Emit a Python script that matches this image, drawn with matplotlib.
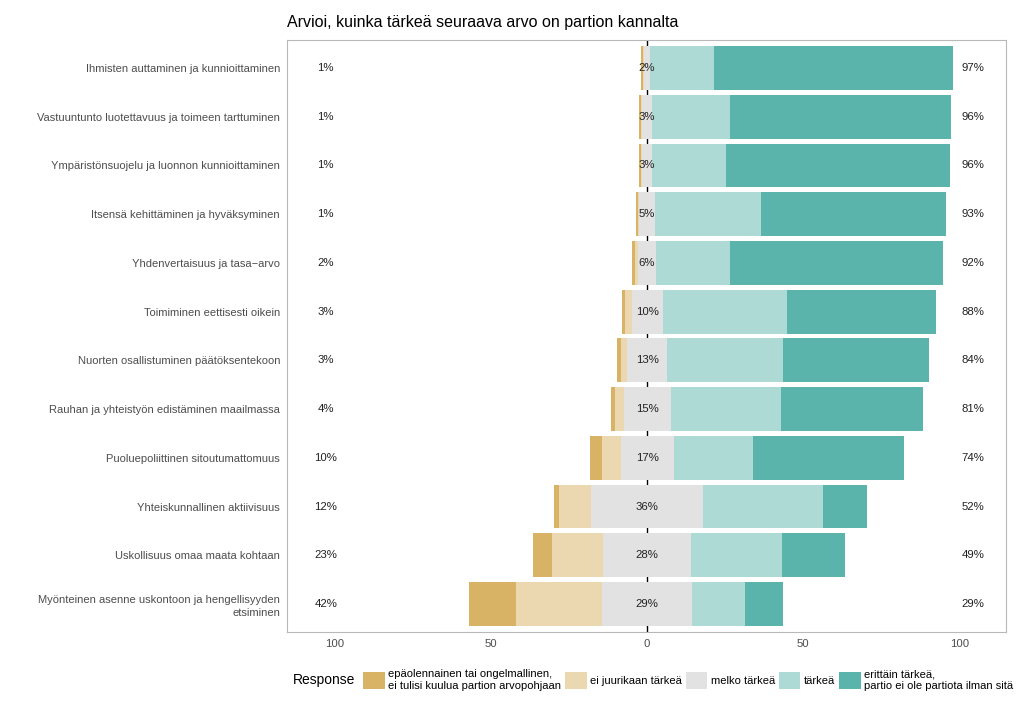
import numpy as np
import matplotlib; matplotlib.use("Agg")
import matplotlib.pyplot as plt
from matplotlib.patches import Patch

# --- data (percent) ---
items = ["Ihmisten auttaminen ja kunnioittaminen",
         "Vastuuntunto luotettavuus ja toimeen tarttuminen",
         "Ympäristönsuojelu ja luonnon kunnioittaminen",
         "Itsensä kehittäminen ja hyväksyminen",
         "Yhdenvertaisuus ja tasa\u2212arvo",
         "Toimiminen eettisesti oikein",
         "Nuorten osallistuminen päätöksentekoon",
         "Rauhan ja yhteistyön edistäminen maailmassa",
         "Puoluepoliittinen sitoutumattomuus",
         "Yhteiskunnallinen aktiivisuus",
         "Uskollisuus omaa maata kohtaan",
         "Myönteinen asenne uskontoon ja hengellisyyden\netsiminen"]
epaolennainen = [0.7, 0.6, 0.6, 0.5, 1.0, 1.0, 1.0, 1.2, 3.8, 1.8, 6.0, 15.0]
ei_juurikaan = [0.3, 0.4, 0.4, 0.5, 1.0, 2.0, 2.0, 2.8, 6.0, 10.2, 16.6, 27.5]
melko = [2, 3, 3, 5, 6, 10, 13, 15, 17, 36, 28, 29]
tarkea = [20.5, 25.0, 23.8, 34.0, 23.6, 39.8, 37.1, 35.4, 25.3, 38.4, 29.2, 16.9]
erittain = [76.5, 70.8, 71.8, 59.3, 68.3, 47.7, 46.8, 45.6, 48.4, 13.9, 20.1, 12.0]
low_lab = ["1%", "1%", "1%", "1%", "2%", "3%", "3%", "4%", "10%", "12%", "23%", "42%"]
mid_lab = ["2%", "3%", "3%", "5%", "6%", "10%", "13%", "15%", "17%", "36%", "28%", "29%"]
high_lab = ["97%", "96%", "96%", "93%", "92%", "88%", "84%", "81%", "74%", "52%", "49%", "29%"]
levels = ["epäolennainen tai ongelmallinen,\nei tulisi kuulua partion arvopohjaan",
          "ei juurikaan tärkeä", "melko tärkeä", "tärkeä",
          "erittäin tärkeä,\npartio ei ole partiota ilman sitä"]
cols = ["#D8B365", "#EBD8B0", "#E2E2E2", "#AEDAD5", "#5AB4AC"]

plt.rcParams.update({"font.family": ["Liberation Sans", "DejaVu Sans"]})
fig = plt.figure(figsize=(10.24, 7.08), dpi=100)
ax = fig.add_axes([287/1024, 1-632/708, (1006-287)/1024, (632-40)/708])

n = len(items)
y = n - np.arange(n)
d1, d2, m, t1, t2 = (np.array(a, float) for a in (epaolennainen, ei_juurikaan, melko, tarkea, erittain))
h = 0.9
ax.barh(y, m, left=-m/2, height=h, color=cols[2], zorder=3)
ax.barh(y, d2, left=-m/2-d2, height=h, color=cols[1], zorder=3)
ax.barh(y, d1, left=-m/2-d2-d1, height=h, color=cols[0], zorder=3)
ax.barh(y, t1, left=m/2, height=h, color=cols[3], zorder=3)
ax.barh(y, t2, left=m/2+t1, height=h, color=cols[4], zorder=3)
ax.axvline(0, color="black", lw=1.0, zorder=2)

for yi, a, b, c in zip(y, low_lab, mid_lab, high_lab):
    ax.text(-103, yi, a, ha="center", va="center", fontsize=8.2, color="#222222", zorder=4)
    ax.text(0, yi, b, ha="center", va="center", fontsize=8.2, color="#222222", zorder=4)
    ax.text(104.5, yi, c, ha="center", va="center", fontsize=8.2, color="#222222", zorder=4)

ax.set_xlim(-115.4, 115)
ax.set_ylim(0.425, n + 0.575)
ax.set_xticks([-100, -50, 0, 50, 100])
ax.set_xticklabels(["100", "50", "0", "50", "100"])
ax.set_yticks(y)
ax.set_yticklabels(items, fontsize=8.0, color="#4D4D4D", linespacing=1.35)
ax.tick_params(axis="x", labelsize=8.2, labelcolor="#4D4D4D", length=0, pad=5)
ax.tick_params(axis="y", length=0, pad=5)
for s in ax.spines.values():
    s.set_color("#B8B8B8")
ax.set_title("Arvioi, kuinka tärkeä seuraava arvo on partion kannalta",
             loc="left", fontsize=11.5, pad=9)

handles = [Patch(facecolor=c, edgecolor="none") for c in cols]
fig.text(293/1024, 1-680/708, "Response", fontsize=10, va="center", ha="left")
fig.legend(handles, levels, loc="center left", bbox_to_anchor=(353/1024, 1-680/708),
           ncol=5, frameon=False, fontsize=8.0, handlelength=1.95, handleheight=1.95,
           handletextpad=0.3, columnspacing=0.35, labelspacing=0.2)

fig.savefig("out.png", dpi=100)
